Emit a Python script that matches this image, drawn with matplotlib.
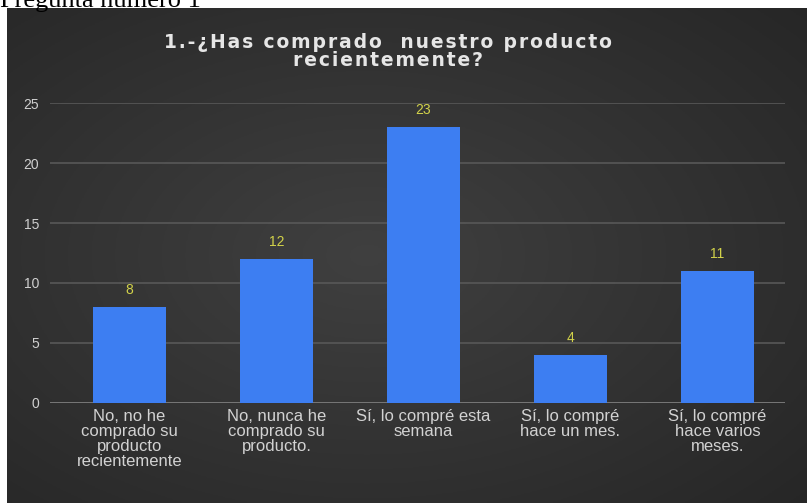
import numpy as np
import matplotlib.pyplot as plt

# respuestas a la pregunta 1
categorias = ['No, no he\ncomprado su\nproducto\nrecientemente',
              'No, nunca he\ncomprado su\nproducto.',
              'Sí, lo compré esta\nsemana',
              'Sí, lo compré\nhace un mes.',
              'Sí, lo compré\nhace varios\nmeses.']
valores = [8, 12, 23, 4, 11]
ticks_y = [0, 5, 10, 15, 20, 25]
titulo = ['1.-¿Has comprado  nuestro producto', 'recientemente?']

W, H = 807, 503
fig = plt.figure(figsize=(W / 100, H / 100), dpi=100)
fig.patch.set_facecolor('white')

# encabezado del documento, cortado por el panel
fig.text(0.0, 1 - 7 / H, 'Pregunta número 1', family='Liberation Serif',
         fontsize=19, color='black', va='baseline', ha='left')

# panel oscuro con degradado radial
bg = fig.add_axes([7 / W, 0, 1 - 7 / W, 1 - 8 / H], zorder=1)
yy, xx = np.mgrid[0:1:200j, 0:1:300j]
r = np.sqrt(((xx - 0.45) / 0.75) ** 2 + ((yy - 0.5) / 0.75) ** 2)
g = np.clip(0.25 - 0.10 * r, 0.14, 0.25)
bg.imshow(np.dstack([g, g, g]), aspect='auto', extent=[0, 1, 0, 1], origin='lower')
bg.axis('off')

# área de trazado
x0, x1 = 50, 785
y0, y1 = 403, 103
ax = fig.add_axes([x0 / W, 1 - y0 / H, (x1 - x0) / W, (y0 - y1) / H], zorder=2)
ax.patch.set_alpha(0)
x = np.arange(len(valores))
ax.bar(x, valores, width=0.5, color='#3d7ef2', zorder=3)
ax.set_xlim(-0.54, 4.46)
ax.set_ylim(0, 25)
ax.set_yticks(ticks_y)
ax.grid(axis='y', color='#585858', linewidth=1.2, zorder=0)
ax.set_axisbelow(True)
for s in ax.spines.values():
    s.set_visible(False)
ax.axhline(0, color='#7a7a7a', linewidth=2, zorder=2)
ax.tick_params(axis='y', length=0, pad=8, colors='#d0d0d0', labelsize=10)
ax.tick_params(axis='x', length=0, pad=4, colors='#d2d2d2', labelsize=12)
ax.set_xticks(x)
ax.set_xticklabels(categorias, linespacing=1.02,
                   family=['Liberation Sans Narrow', 'Liberation Sans'])
for lbl in ax.get_yticklabels():
    lbl.set_family('Liberation Sans')

for xi, v in zip(x, valores):
    ax.text(xi, v + 0.8, str(v), ha='center', va='bottom', color='#d2d24a',
            fontsize=10, family='Liberation Sans', zorder=4)

# título con espaciado amplio entre letras
espaciado = ['\u200a'.join(linea) for linea in titulo]
fig.text(388 / W, 1 - 43 / H, espaciado[0], ha='center', va='center',
         color='#e6e6e6', fontsize=13.5, fontweight='bold', zorder=3)
fig.text(388 / W, 1 - 61 / H, espaciado[1], ha='center', va='center',
         color='#e6e6e6', fontsize=13.5, fontweight='bold', zorder=3)

fig.savefig('out.png', dpi=100)
